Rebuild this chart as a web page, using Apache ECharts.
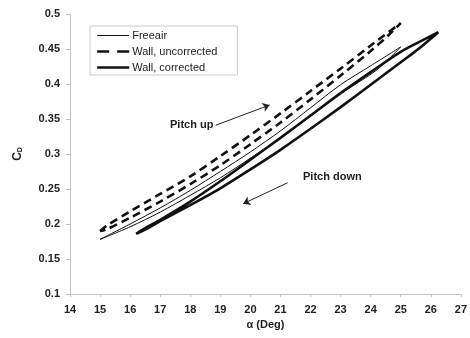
<!DOCTYPE html>
<html>
<head>
<meta charset="utf-8">
<script src="https://cdn.jsdelivr.net/npm/echarts@6/dist/echarts.min.js"></script>
<style>
html, body { margin: 0; padding: 0; background: #fff; }
#chart_1 { width: 470px; height: 338px; }
</style>
</head>
<body>
<div id="chart_1"></div>
<script>
// [alpha (deg), Cd], each loop = pitch up branch + pitch down branch
var freeairUp = [[15.0, 0.178], [16, 0.200], [17, 0.223], [18, 0.248], [19, 0.275], [20, 0.303], [21, 0.333], [22, 0.366], [23, 0.399], [24, 0.426], [25.0, 0.453]];
var freeairDown = [[25.0, 0.453], [24.2, 0.420], [23, 0.386], [22, 0.354], [21, 0.323], [20, 0.294], [19, 0.266], [18, 0.241], [17, 0.217], [16, 0.196], [15.0, 0.178]];

var uncorrUp = [[15.0, 0.190], [15.2, 0.197], [16, 0.218], [17, 0.243], [18, 0.268], [19, 0.297], [20, 0.327], [21, 0.358], [22, 0.390], [23, 0.422], [24, 0.455], [25.0, 0.487]];
var uncorrDown = [[25.0, 0.487], [24.6, 0.470], [24, 0.447], [23, 0.412], [22, 0.378], [21, 0.345], [20, 0.314], [19, 0.284], [18, 0.257], [17, 0.232], [16, 0.209], [15.2, 0.192], [15.0, 0.190]];

var corrUp = [[16.2, 0.186], [16.5, 0.194], [17, 0.206], [18, 0.232], [19, 0.261], [20, 0.292], [21, 0.323], [22, 0.355], [23, 0.387], [24, 0.417], [25, 0.446], [25.8, 0.464], [26.25, 0.474]];
var corrDown = [[26.25, 0.474], [25.5, 0.447], [25, 0.431], [24, 0.399], [23, 0.367], [22, 0.336], [21, 0.306], [20, 0.278], [19, 0.251], [18, 0.227], [17, 0.204], [16.5, 0.192], [16.2, 0.186]];

var seriesNames = ['Freeair', 'Wall, uncorrected', 'Wall, corrected'];
var pitchUpArrow = [[18.84, 0.341], [20.64, 0.370]];
var pitchDownArrow = [[21.24, 0.259], [19.76, 0.229]];

function makeChart() {
	var myChart = echarts.init(document.getElementById('chart_1'));
	var font = 'Liberation Sans, Arial, sans-serif';
	var axisText = {
		color: '#222',
		fontFamily: font,
		fontSize: 11,
		fontWeight: 'bold',
		margin: 10
	};
	var option = {
		backgroundColor: '#fff',
		animation: false,
		grid: { left: 70, right: 5, top: 14, bottom: 44 },
		legend: {
			orient: 'vertical',
			left: 90,
			top: 26,
			itemWidth: 32,
			itemHeight: 10,
			itemGap: 5,
			padding: [4, 20, 2, 6],
			borderColor: '#ccc',
			borderWidth: 1,
			itemStyle: { opacity: 0 },
			textStyle: { color: '#222', fontFamily: font, fontSize: 11, padding: [0, 0, 0, -2] },
			data: [
				{ name: seriesNames[0], lineStyle: { width: 1 } },
				{ name: seriesNames[1], lineStyle: { width: 2.4, type: [12, 8] } },
				{ name: seriesNames[2], lineStyle: { width: 2.4 } }
			]
		},
		graphic: [{
			type: 'text',
			left: 170,
			top: 119,
			style: { text: 'Pitch up', fill: '#222', font: 'bold 11px ' + font }
		}, {
			type: 'text',
			left: 303,
			top: 171,
			style: { text: 'Pitch down', fill: '#222', font: 'bold 11px ' + font }
		}],
		xAxis: {
			type: 'value',
			min: 14,
			max: 27,
			interval: 1,
			name: 'α (Deg)',
			nameLocation: 'middle',
			nameGap: 21,
			nameTextStyle: { color: '#222', fontFamily: font, fontSize: 11, fontWeight: 'bold' },
			axisLine: { lineStyle: { color: '#c4c4c4' } },
			axisTick: { length: 3, lineStyle: { color: '#c4c4c4' } },
			axisLabel: axisText,
			splitLine: { show: false }
		},
		yAxis: {
			type: 'value',
			min: 0.1,
			max: 0.5,
			interval: 0.05,
			name: '{c|C}{d|D}',
			nameLocation: 'middle',
			nameGap: 46,
			nameTextStyle: {
				rich: {
					c: { fontSize: 12, fontWeight: 'bold', color: '#222', fontFamily: font },
					d: { fontSize: 7, fontWeight: 'bold', color: '#222', fontFamily: font, verticalAlign: 'bottom', padding: [6, 0, 0, 0] }
				}
			},
			axisLine: { show: true, lineStyle: { color: '#c4c4c4' } },
			axisTick: { show: true, length: 4, lineStyle: { color: '#c4c4c4' } },
			axisLabel: axisText,
			splitLine: { show: false }
		},
		series: [{
			name: seriesNames[0],
			type: 'line',
			symbol: 'none',
			smooth: 0.3,
			lineStyle: { color: '#111', width: 1 },
			itemStyle: { color: '#111' },
			data: freeairUp.concat(freeairDown.slice(1))
		}, {
			name: seriesNames[1],
			type: 'line',
			symbol: 'none',
			smooth: 0.3,
			lineStyle: { color: '#111', width: 2.6, type: [8, 5] },
			itemStyle: { color: '#111' },
			data: uncorrUp.concat(uncorrDown.slice(1))
		}, {
			name: seriesNames[2],
			type: 'line',
			symbol: 'none',
			smooth: 0.3,
			lineStyle: { color: '#111', width: 2.6 },
			itemStyle: { color: '#111' },
			data: corrUp.concat(corrDown.slice(1)),
			markLine: {
				silent: true,
				symbol: ['none', 'arrow'],
				symbolSize: 7,
				lineStyle: { color: '#222', width: 1, type: 'solid' },
				label: { show: false },
				data: [
					[{ coord: pitchUpArrow[0] }, { coord: pitchUpArrow[1] }],
					[{ coord: pitchDownArrow[0] }, { coord: pitchDownArrow[1] }]
				]
			}
		}]
	};
	myChart.setOption(option);
}
makeChart();
</script>
</body>
</html>
